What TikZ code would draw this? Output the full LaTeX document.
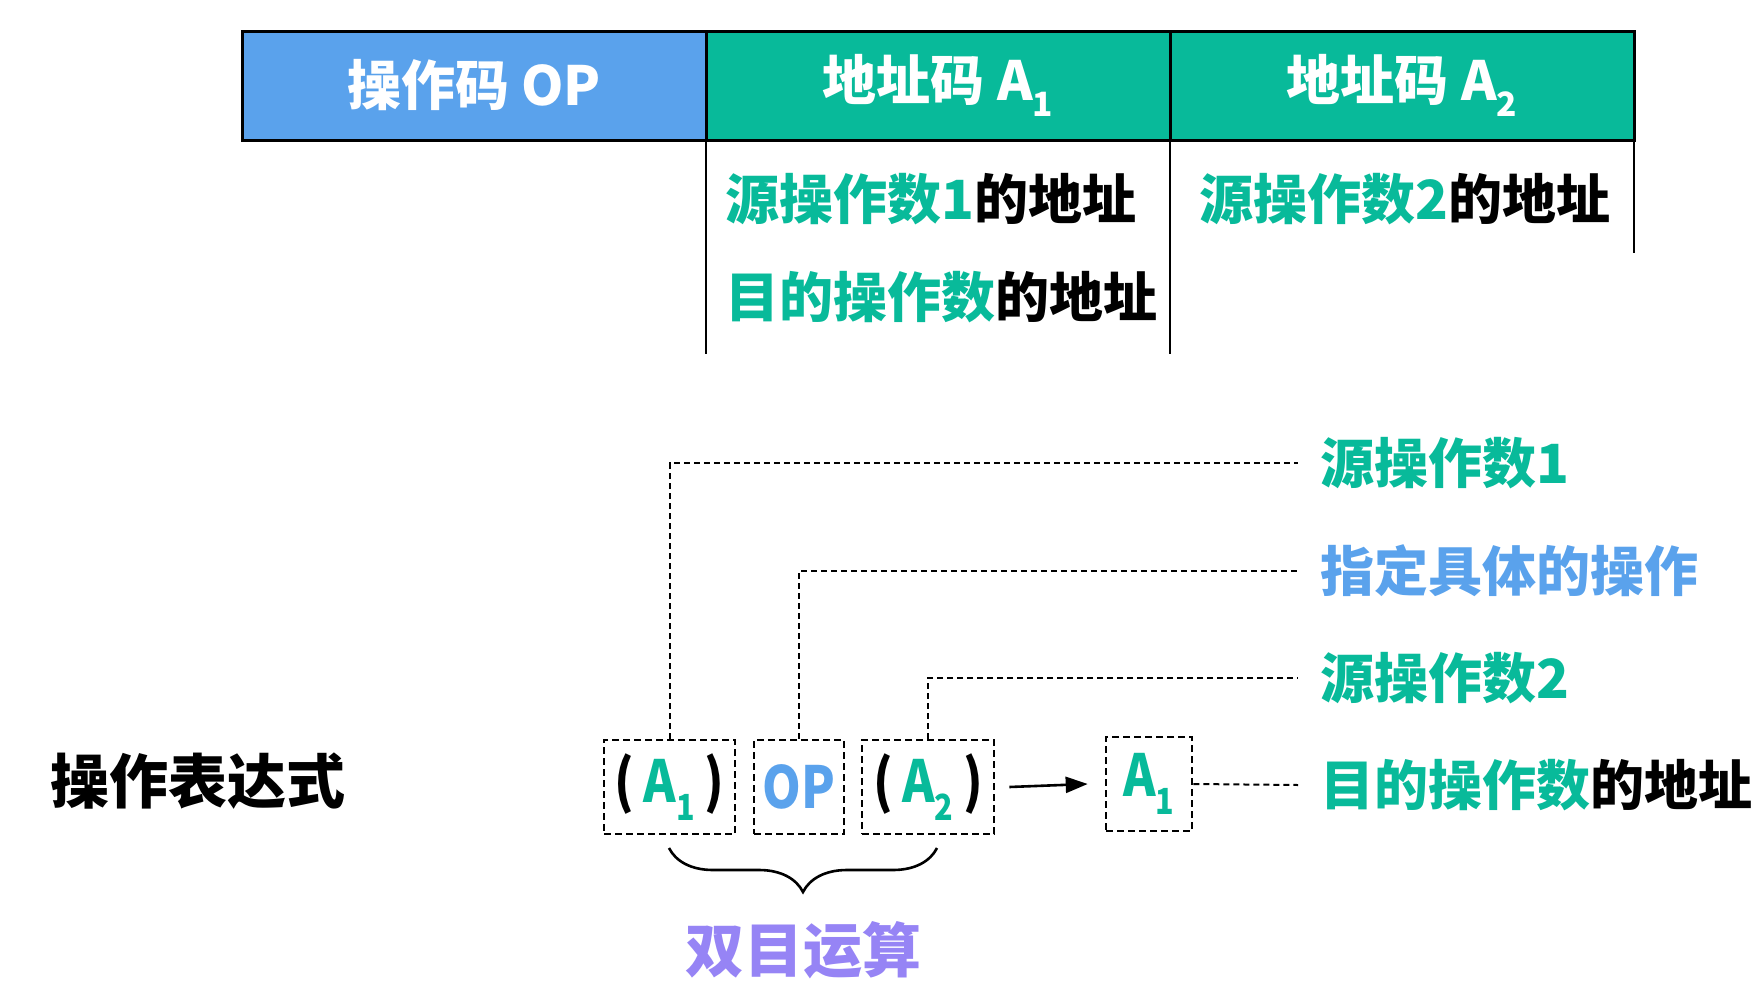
\documentclass[tikz,border=0pt]{standalone}
\usepackage{fontspec}
\setmainfont{Noto Sans CJK SC}
\newfontfamily\narrowfont{Noto Sans CJK SC}[FakeStretch=0.85]
\usepackage{tikz}
\usepackage{xcolor}
\usetikzlibrary{positioning}
\usetikzlibrary{calc, arrows.meta, decorations.pathreplacing}
\definecolor{opblue}{RGB}{90,162,236}
\definecolor{codegreen}{RGB}{8,186,154}
\definecolor{lilac}{RGB}{150,132,245}
\newcommand{\lowidx}[1]{\raisebox{-0.3em}{\scalebox{0.62}{#1}}}

\begin{document}
\begin{tikzpicture}[x=1pt, y=-1pt]
	\tikzstyle{cell} = [draw, line width=3pt, outer sep=0pt, inner sep=0pt, minimum width=464pt, minimum height=109pt, text=white, font=\fontsize{54}{54}\selectfont\bfseries]
	\tikzstyle{note} = [anchor=west, inner sep=0pt, font=\fontsize{54}{54}\selectfont\bfseries]
	\tikzstyle{tag} = [anchor=west, inner sep=0pt, outer xsep=22pt, font=\fontsize{54}{54}\selectfont\bfseries]
	\tikzstyle{slot} = [draw, line width=2.6pt, dash pattern=on 7pt off 4pt, inner sep=0pt, minimum height=94pt, font=\fontsize{58}{58}\narrowfont\bfseries]
	\tikzstyle{link} = [line width=2pt, dash pattern=on 6pt off 4pt]

	\useasboundingbox (0,0) rectangle (1757,991);

	% instruction format
	\node (op) [cell, fill=opblue] at (474,85.5) {操作码 OP};
	\node (a1) [cell, fill=codegreen, right=0pt of op] {地址码 A\lowidx{1}};
	\node (a2) [cell, fill=codegreen, right=0pt of a1] {地址码 A\lowidx{2}};

	\draw [line width=2.6pt] (a1.south west) -- ++(0,214);
	\draw [line width=2.6pt] (a2.south west) -- ++(0,214);
	\draw [line width=2.6pt] (a2.south east) -- ++(0,113);

	\node (n1) [note] at (725,199) {\textcolor{codegreen}{源操作数1}的地址};
	\node (n2) [note] at (725,297) {\textcolor{codegreen}{目的操作数}的地址};
	\node (n3) [note] at (1199,199) {\textcolor{codegreen}{源操作数2}的地址};

	% expression
	\node (expr) [anchor=west, inner sep=0pt, font=\fontsize{59}{59}\selectfont\bfseries] at (50,781) {操作表达式};

	\node (b1) [slot, minimum width=131pt] at (669.5,787) {(\,\textcolor{codegreen}{A\lowidx{1}}\,)};
	\node (b2) [slot, minimum width=90pt] at (799,787) {\textcolor{opblue}{OP}};
	\node (b3) [slot, minimum width=132pt] at (928,787) {(\,\textcolor{codegreen}{A\lowidx{2}}\,)};
	\node (b4) [slot, minimum width=86pt] at (1149,784) {\textcolor{codegreen}{A\lowidx{1}}};

	\node (s1) [tag, text=codegreen] at (1298,463) {源操作数1};
	\node (s2) [tag, text=opblue] at (1298,571) {指定具体的操作};
	\node (s3) [tag, text=codegreen] at (1298,678) {源操作数2};
	\node (s4) [tag] at (1298,785) {\textcolor{codegreen}{目的操作数}的地址};

	\draw [link] (b1.north) |- (s1.west);
	\draw [link] (b2.north) |- (s2.west);
	\draw [link] (b3.north) |- (s3.west);
	\draw [link] (b4.east) -- (s4.west);

	\draw [line width=2.6pt, -{Triangle[length=22pt, width=16pt]}] ($(b3.east)+(14,0)$) -- ($(b4.west)+(-17,0)$);

	\coordinate (bl) at (669,848);
	\coordinate (br) at (937,848);
	\draw [line width=2.6pt, decorate, decoration={brace, mirror, amplitude=44pt}] (bl) -- (br);
	\node (dual) [text=lilac, font=\fontsize{59}{59}\selectfont\bfseries] at (803,950) {双目运算};
\end{tikzpicture}
\end{document}
